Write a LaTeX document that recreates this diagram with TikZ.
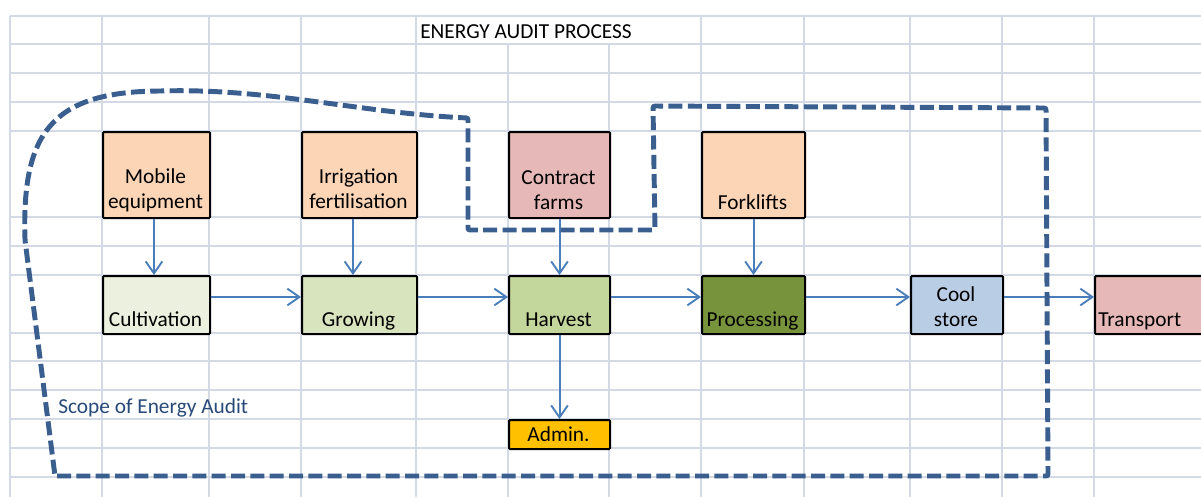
\documentclass[tikz,border=0pt]{standalone}
\usepackage{fontspec}
\setmainfont{Carlito}
\usetikzlibrary{arrows.meta}
\newdimen\pxunit \pxunit=0.75pt
\definecolor{gridc}{HTML}{D3DAE6}
\definecolor{peach}{HTML}{FBD5B5}
\definecolor{rosy}{HTML}{E6B9B8}
\definecolor{cultc}{HTML}{EBF1DE}
\definecolor{growc}{HTML}{D7E4BD}
\definecolor{harvc}{HTML}{C3D69B}
\definecolor{procc}{HTML}{77933C}
\definecolor{coolc}{HTML}{B9CDE5}
\definecolor{adminc}{HTML}{FFC000}
\definecolor{arrc}{HTML}{4A7EBB}
\definecolor{scopec}{HTML}{3A5F8E}
\definecolor{scopetxt}{HTML}{274A78}
\begin{document}
\begin{tikzpicture}[x=0.75pt, y=-0.75pt,
  gridline/.style={draw=gridc, line width=1.2pt},
  box/.style={draw=black, line width=1.5pt, rounded corners=0.8pt, inner sep=0pt, anchor=north west},
  lbl/.style={font=\fontsize{16}{19}\selectfont, inner sep=0pt, text depth=0pt, align=center, anchor=south},
  arr/.style={draw=arrc, line width=1.5pt, -{Straight Barb[length=9pt, width=12.5pt, line width=1.4pt]}},
  scope/.style={draw=scopec, line width=3.7pt, dash pattern=on 10.5pt off 4pt, rounded corners=1.5pt}]
\useasboundingbox (0,0) rectangle (1201,497);
\clip (0,0) rectangle (1201,497);
\fill[white] (0,0) rectangle (1201,497);

% spreadsheet grid
\foreach \x in {10,102,209,301,416,701,804,910,1002,1094}
  \draw[gridline] (\x,16) -- (\x,497);
\foreach \x in {508,609}
  \draw[gridline] (\x,44) -- (\x,497);
\foreach \y in {16,44,73,102,131,217,246,275,333,361,390,419,448,477}
  \draw[gridline] (10,\y) -- (1201,\y);

% title
\node[font=\fontsize{16}{19}\selectfont, inner sep=0pt, anchor=base west] (title) at (420,38) {ENERGY AUDIT PROCESS};

% energy inputs
\node[box, fill=peach, minimum width=107\pxunit, minimum height=86\pxunit] (mob) at (102,131) {};
\node[box, fill=peach, minimum width=115\pxunit, minimum height=86\pxunit] (irr) at (301,131) {};
\node[box, fill=rosy,  minimum width=101\pxunit, minimum height=86\pxunit] (con) at (508,131) {};
\node[box, fill=peach, minimum width=103\pxunit, minimum height=86\pxunit] (fork) at (701,131) {};

% process chain
\node[box, fill=cultc,  minimum width=107\pxunit, minimum height=58\pxunit] (cult) at (102,275) {};
\node[box, fill=growc,  minimum width=115\pxunit, minimum height=58\pxunit] (grow) at (301,275) {};
\node[box, fill=harvc,  minimum width=101\pxunit, minimum height=58\pxunit] (harv) at (508,275) {};
\node[box, fill=procc,  minimum width=103\pxunit, minimum height=58\pxunit] (proc) at (701,275) {};
\node[box, fill=coolc,  minimum width=92\pxunit,  minimum height=58\pxunit] (cool) at (910,275) {};
\node[box, fill=rosy,   minimum width=130\pxunit, minimum height=58\pxunit] (trans) at (1094,275) {};
\node[box, fill=adminc, minimum width=101\pxunit, minimum height=29\pxunit] (admin) at (508,419) {};

% box texts
\node[lbl] (mobt)  at (155.5,209) {Mobile\\equipment};
\node[lbl] (irrt)  at (358.5,209) {Irrigation\\fertilisation};
\node[lbl] (cont)  at (558.5,210) {Contract\\farms};
\node[lbl] (forkt) at (752.5,210) {Forklifts};
\node[lbl] (cultt) at (155.5,327) {Cultivation};
\node[lbl] (growt) at (358.5,327) {Growing};
\node[lbl] (harvt) at (558.5,327) {Harvest};
\node[lbl] (proct) at (752.5,327) {Processing};
\node[lbl] (coolt) at (956,327) {Cool\\store};
\node[lbl, anchor=south west] (transt) at (1098,327) {Transport};
\node[lbl] (admint) at (558.5,442) {Admin.};

% connectors
\draw[arr] ([xshift=-2.5\pxunit]mob.south) -- ([xshift=-2.5\pxunit]cult.north);
\draw[arr] ([xshift=-6.5\pxunit]irr.south) -- ([xshift=-6.5\pxunit]grow.north);
\draw[arr] (con.south) -- (harv.north);
\draw[arr] (fork.south) -- (proc.north);
\draw[arr] (harv.south) -- (admin.north);
\draw[arr] ([yshift=8\pxunit]cult.east) -- ([yshift=8\pxunit]grow.west);
\draw[arr] ([yshift=8\pxunit]grow.east) -- ([yshift=8\pxunit]harv.west);
\draw[arr] ([yshift=8\pxunit]harv.east) -- ([yshift=8\pxunit]proc.west);
\draw[arr] ([yshift=8\pxunit]proc.east) -- ([yshift=8\pxunit]cool.west);
\draw[arr] ([yshift=8\pxunit]cool.east) -- ([yshift=8\pxunit]trans.west);

% audit boundary
\draw[scope] (55,476) -- (1048,476) -- (1046,108) -- (653,106) -- (655,230) -- (468,230) -- (468,118)
  .. controls (360,113) and (270,88) .. (160,91)
  .. controls (50,92) and (22,135) .. (25,240) -- cycle;
\node[font=\fontsize{16}{19}\selectfont, text=scopetxt, inner sep=0pt, anchor=base west] (scopet) at (58,413) {Scope of Energy Audit};
\end{tikzpicture}
\end{document}
